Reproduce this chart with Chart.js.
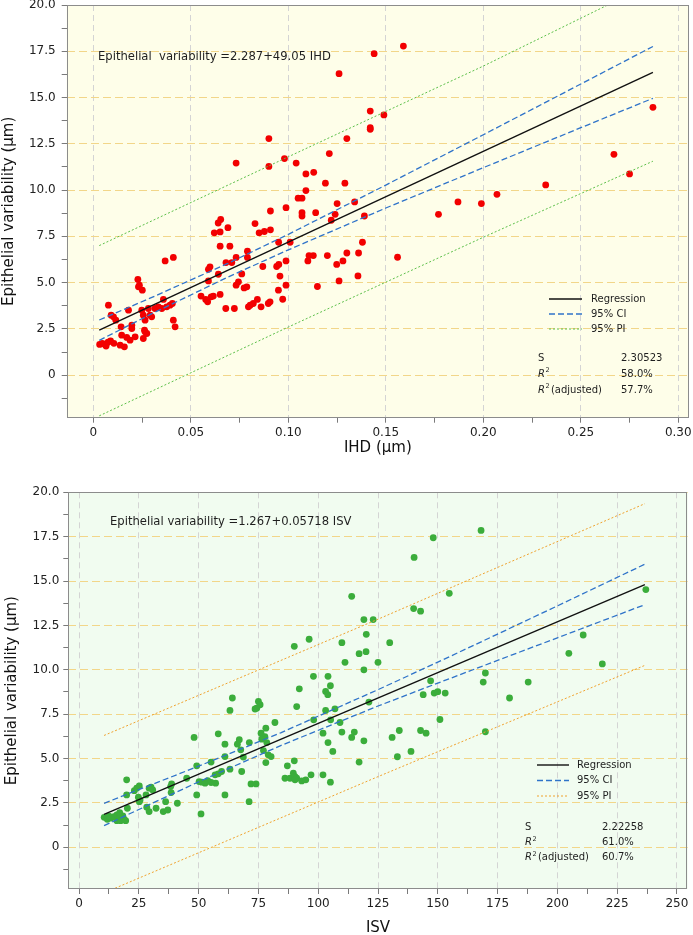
<!DOCTYPE html>
<html>
<head>
<meta charset="utf-8">
<script src="https://cdn.jsdelivr.net/npm/chart.js@4.4.1/dist/chart.umd.min.js"></script>
<style>
  html, body { margin: 0; padding: 0; background: #fff; }
  body { width: 693px; height: 935px; position: relative; overflow: hidden; }
  .panel { position: absolute; left: 0; }
</style>
</head>
<body>
<div class="panel" style="top:0"><canvas id="ihd" width="693" height="460"></canvas></div>
<div class="panel" style="top:460px"><canvas id="isv" width="693" height="477"></canvas></div>
<script>
// ---------------- data ----------------
// top panel: epithelial variability vs IHD
const IHD_X = [
  0.0032,0.0045,0.0055,0.0065,0.0075,0.0088,0.0077,0.0091,0.0103,0.0115,
  0.0142,0.0145,0.0137,0.0159,0.0171,0.018,0.0197,0.0197,0.0188,0.0214,
  0.0228,0.0231,0.0251,0.0248,0.0256,0.0265,0.0265,0.0274,0.0256,0.0282,
  0.0291,0.0299,0.0316,0.0333,0.0351,0.0359,0.0368,0.0376,0.0393,0.0405,
  0.041,0.041,0.0419,0.0105,0.0236,0.0262,
  0.0552,0.0576,0.0586,0.0604,0.0615,0.065,0.059,0.059,0.0598,0.0641,
  0.068,0.071,0.065,0.070,0.062,0.065,0.069,0.064,0.0653,0.0679,0.0723,
  0.159,0.144,0.126,0.142,0.149,0.142,0.142,0.130,0.090,0.0732,
  0.098,0.090,0.121,0.104,0.109,0.113,0.119,0.129,0.109,0.105,
  0.107,0.0908,0.0988,0.107,0.107,0.114,0.125,0.134,0.124,0.122,
  0.139,0.0829,0.085,0.0877,
  0.0908,0.095,0.1009,0.079,0.079,0.0732,0.0761,0.0869,0.094,0.0951,
  0.0988,0.0957,0.1106,0.1128,0.110,0.120,0.130,0.128,0.1248,0.136,
  0.138,0.156,0.1357,0.126,0.1149,0.0949,0.0988,0.0971,0.0906,0.0897,
  0.086,0.0841,0.082,0.0804,0.0795,
  0.0732,0.0744,0.0773,0.0787,0.177,0.187,0.199,0.207,0.232,0.267,0.275,0.287
];
const IHD_Y = [
  1.66,1.72,1.68,1.57,1.78,1.85,3.78,3.24,3.15,2.97,
  2.61,2.16,1.62,1.53,2.04,3.51,2.7,2.52,1.89,2.07,
  5.17,4.77,4.59,3.51,3.24,2.97,2.34,2.25,1.98,3.6,
  3.24,3.15,3.6,3.69,3.6,4.09,6.17,3.69,3.78,3.87,
  6.36,2.97,2.61,1.72,4.86,2.43,
  4.27,4.09,3.96,4.23,4.27,4.36,5.09,5.72,5.85,5.45,
  6.08,6.08,6.97,6.97,7.69,7.74,7.97,8.22,8.41,3.6,3.6,
  17.78,17.37,16.29,14.27,14.06,13.37,13.28,12.78,12.78,11.46,
  11.7,11.28,11.97,11.46,10.87,10.96,10.37,10.37,9.97,9.56,
  9.56,8.87,9.05,8.78,8.6,8.78,9.27,9.36,8.69,8.37,
  8.6,8.19,7.69,7.76,
  7.85,7.18,7.18,6.7,6.36,6.36,5.47,5.87,5.87,5.98,
  6.17,5.35,6.46,6.46,6.17,6.46,6.6,6.17,5.98,6.6,
  7.18,6.37,5.36,5.09,4.79,4.59,4.86,4.1,3.96,3.87,
  3.69,4.09,3.87,3.78,3.69,
  4.86,5.04,4.71,4.77,8.69,9.36,9.27,9.77,10.28,11.93,10.87,14.47
];
const IHD_FIT_X = [0.003, 0.287];
const IHD_FIT_Y = [2.43, 16.36];
const IHD_CI_X  = [0.003, 0.03, 0.069, 0.1, 0.15, 0.2, 0.25, 0.287];
const IHD_CI_UP = [2.98, 4.20, 6.04, 7.61, 10.27, 12.99, 15.73, 17.76];
const IHD_CI_LO = [1.88, 3.32, 5.30, 6.77, 9.03, 11.21, 13.37, 14.96];
const IHD_PI_X  = [0.003, 0.1, 0.2, 0.287];
const IHD_PI_UP = [7.0, 11.8, 16.7, 21.2];
const IHD_PI_LO = [-2.2, 2.6, 7.45, 11.56];
const IHD_TICKS = [0,0.025,0.05,0.075,0.1,0.125,0.15,0.175,0.2,0.225,0.25,0.275,0.3];

// bottom panel: epithelial variability vs ISV
const ISV_X = [
  10.5,11.8,13.2,14.6,15.8,15.8,16.9,17.4,18.3,18.8,
  19.5,12.5,17.0,19.9,19.9,20.2,23.1,24.1,25.2,24.8,
  25.2,25.5,28.0,28.3,29.3,29.3,30.1,30.8,32.2,35.2,
  36.2,37.1,38.3,38.7,38.5,41.1,45.0,
  48.1,49.2,49.2,51.0,50.2,51.3,52.7,53.8,55.2,57.1,
  55.2,56.9,58.2,59.6,58.2,61.0,61.0,61.0,63.1,63.1,
  64.1,66.2,67.0,67.6,68.7,68.0,71.2,71.9,74.0,71.1,
  75.0,75.7,74.3,73.6,76.1,77.7,76.4,78.1,78.5,77.1,
  78.1,79.1,80.3,81.9,87.1,90.0,86.1,88.2,89.6,90.3,
  91.0,93.1,94.8,97.0,102.0,105.1,90.3,
  91.0,92.1,90.0,96.2,98.0,98.1,102.0,103.1,103.1,104.0,
  104.1,105.1,105.2,107.0,104.1,106.1,109.1,109.9,109.9,111.2,
  114.0,114.0,115.1,117.1,117.1,119.1,119.1,119.1,120.0,120.1,
  121.2,123.0,125.0,129.9,
  130.9,133.1,133.9,138.8,139.9,140.1,142.8,142.8,143.9,145.1,
  147.0,148.5,150.0,153.1,150.9,148.1,154.8,168.1,169.9,169.0,
  169.9,180.0,187.8,204.8,210.8,218.8,237.0
];
const ISV_Y = [
  1.69,1.58,1.64,1.73,1.82,1.5,1.64,1.5,1.77,1.58,
  1.5,1.75,1.95,3.8,2.95,2.2,3.19,3.33,3.46,2.82,
  2.57,2.67,2.95,2.26,2.01,3.33,3.39,3.23,2.2,2.01,
  2.57,2.1,3.42,3.57,3.08,2.48,3.89,
  6.19,4.59,2.95,1.88,3.7,3.67,3.61,3.76,3.65,3.61,
  4.8,4.08,4.14,4.27,6.39,5.81,5.11,2.95,4.4,7.71,
  8.41,5.81,6.06,5.49,5.08,4.27,5.9,3.57,3.57,2.57,
  8.22,8.03,7.84,7.79,6.43,6.24,6.09,6.71,5.9,5.45,
  4.77,5.21,5.11,7.03,4.59,4.87,3.89,3.89,4.17,3.98,
  3.89,3.74,3.8,4.08,4.08,3.67,3.8,
  7.93,8.93,11.32,11.72,9.63,7.18,6.43,7.71,8.78,8.6,
  9.63,9.1,7.18,7.8,5.9,5.4,7.03,6.49,11.53,10.42,
  14.14,6.19,6.49,10.91,4.8,12.83,10.0,6.0,11.02,12.0,
  8.18,12.83,10.42,11.53,
  6.19,5.1,6.58,5.4,13.45,16.33,13.3,6.58,8.6,6.43,
  9.38,8.69,8.77,8.69,7.2,17.44,14.31,17.85,9.82,9.31,
  6.51,8.41,9.31,10.93,11.96,10.33,14.52
];
const ISV_FIT_X = [10.45, 236.6];
const ISV_FIT_Y = [1.86, 14.80];
const ISV_CI_X  = [10.45, 50, 84.3, 125, 150, 175, 200, 236.6];
const ISV_CI_UP = [2.48, 4.57, 6.45, 8.88, 10.43, 12.01, 13.60, 15.95];
const ISV_CI_LO = [1.22, 3.69, 5.73, 7.96, 9.25, 10.53, 11.80, 13.67];
const ISV_PI_X  = [10.45, 125, 236.6];
const ISV_PI_UP = [6.3, 12.85, 19.36];
const ISV_PI_LO = [-2.57, 3.98, 10.25];
const ISV_TICKS = [0,12.5,25,37.5,50,62.5,75,87.5,100,112.5,125,137.5,150,162.5,175,187.5,200,212.5,225,237.5,250];

const VAR_TICKS = [-1.25,0,1.25,2.5,3.75,5,6.25,7.5,8.75,10,11.25,12.5,13.75,15,16.25,17.5,18.75,20];

// ---------------- helpers ----------------
Chart.defaults.font.family = '"DejaVu Sans", Verdana, sans-serif';
const FONT = '"DejaVu Sans", Verdana, sans-serif';

const pts = (xs, ys) => xs.map((x, i) => ({ x, y: ys[i] }));
const isMajor = (v, step) => { const r = v / step; return Math.abs(r - Math.round(r)) < 1e-6; };

function line(xs, ys, color, width, dash){
  return { data: pts(xs, ys), showLine: true, borderColor: color, borderWidth: width,
           borderDash: dash, pointRadius: 0, fill: false };
}

// plot background, frame, equation, legend and fit stats
const panelPlugin = {
  id: 'panel',
  beforeDraw(chart, args, o){
    const { ctx, chartArea: a } = chart;
    ctx.save();
    ctx.fillStyle = o.bg;
    ctx.fillRect(a.left, a.top, a.width, a.height);
    ctx.restore();
  },
  afterDraw(chart, args, o){
    const { ctx, chartArea: a } = chart;
    ctx.save();
    ctx.strokeStyle = '#8c8c8c';
    ctx.lineWidth = 1;
    ctx.strokeRect(Math.round(a.left) + 0.5, Math.round(a.top) + 0.5,
                   Math.round(a.width) - 1, Math.round(a.height) - 1);

    ctx.fillStyle = '#1e1e1e';
    ctx.textBaseline = 'middle';
    ctx.font = '11.6px ' + FONT;
    ctx.fillText(o.equation, o.eq[0], o.eq[1]);

    // legend
    const L = o.legend;
    const items = [
      ['Regression', '#111', 1.4, []],
      ['95% CI', '#2f73c9', 1.3, [6, 3]],
      ['95% PI', o.piColor, 1, [2, 2]]
    ];
    ctx.font = '10px ' + FONT;
    items.forEach((it, i) => {
      const y = L.y + i * L.dy;
      ctx.beginPath();
      ctx.strokeStyle = it[1]; ctx.lineWidth = it[2]; ctx.setLineDash(it[3]);
      ctx.moveTo(L.x0, y); ctx.lineTo(L.x1, y); ctx.stroke();
      ctx.setLineDash([]);
      ctx.fillText(it[0], L.tx, y);
    });

    // stats
    const S = o.stats;
    ctx.font = '10px ' + FONT;
    ctx.fillText('S', S.x, S.y);
    ctx.fillText(S.vals[0], S.vx, S.y);
    [1, 2].forEach(k => {
      const y = S.y + k * S.dy;
      ctx.font = 'italic 10px ' + FONT;
      ctx.fillText('R', S.x, y);
      const w = ctx.measureText('R').width;
      ctx.font = '6.5px ' + FONT;
      ctx.fillText('2', S.x + w + 0.5, y - 3.5);
      if (k === 2){ ctx.font = '10px ' + FONT; ctx.fillText('(adjusted)', S.x + w + 6, y); }
      ctx.font = '10px ' + FONT;
      ctx.fillText(S.vals[k], S.vx, y);
    });
    ctx.restore();
  }
};

function makePanel(id, o){
  return new Chart(document.getElementById(id), {
    type: 'scatter',
    data: { datasets: [
      line(o.fitX, o.fitY, '#111', 1.4, []),
      line(o.ciX, o.ciUp, '#2f73c9', 1.3, [6, 3]),
      line(o.ciX, o.ciLo, '#2f73c9', 1.3, [6, 3]),
      line(o.piX, o.piUp, o.piColor, 1, [2, 2]),
      line(o.piX, o.piLo, o.piColor, 1, [2, 2]),
      { data: pts(o.x, o.y), showLine: false, pointRadius: 3.4, pointBorderWidth: 0,
        backgroundColor: o.dot, borderColor: o.dot }
    ]},
    options: {
      responsive: false,
      animation: false,
      devicePixelRatio: 1,
      layout: { padding: o.pad },
      plugins: {
        legend: { display: false },
        tooltip: { enabled: false },
        panel: o.panel
      },
      scales: {
        x: {
          type: 'linear', min: o.xMin, max: o.xMax,
          afterBuildTicks: s => { s.ticks = o.xTicks.map(v => ({ value: v })); },
          afterFit: s => { s.height = o.xH; s.paddingLeft = 0; s.paddingRight = 0; },
          ticks: { autoSkip: false, maxRotation: 0, padding: 3, color: '#222', font: { size: 12 },
                   callback: v => isMajor(v, o.xMajor) ? o.xFmt(v) : '' },
          grid: { color: c => isMajor(c.tick.value, o.xMajor) ? '#d4d4d4' : 'rgba(0,0,0,0)',
                  tickColor: '#7a7a7a', tickLength: 5, lineWidth: 1 },
          border: { display: false, dash: [6, 4] },
          title: { display: true, text: o.xTitle, color: '#111', font: { size: 15 },
                   padding: o.xTitlePad }
        },
        y: {
          type: 'linear', min: o.yMin, max: 20,
          afterBuildTicks: s => { s.ticks = VAR_TICKS.map(v => ({ value: v })); },
          afterFit: s => { s.width = o.yW; s.paddingTop = 0; s.paddingBottom = 0; },
          ticks: { autoSkip: false, padding: o.yPad, color: '#222', font: { size: 12 },
                   callback: v => isMajor(v, 2.5) ? (v === 0 ? '0' : v.toFixed(1)) : '' },
          grid: { color: c => isMajor(c.tick.value, 2.5) ? '#f2d689' : 'rgba(0,0,0,0)',
                  tickColor: '#7a7a7a', tickLength: 5, lineWidth: 1 },
          border: { display: false, dash: [8, 4] },
          title: { display: true, text: 'Epithelial variability (\u00b5m)', color: '#111',
                   font: { size: 15 }, padding: o.yTitlePad }
        }
      }
    },
    plugins: [panelPlugin]
  });
}

makePanel('ihd', {
  x: IHD_X, y: IHD_Y, dot: '#f20000',
  fitX: IHD_FIT_X, fitY: IHD_FIT_Y,
  ciX: IHD_CI_X, ciUp: IHD_CI_UP, ciLo: IHD_CI_LO,
  piX: IHD_PI_X, piUp: IHD_PI_UP, piLo: IHD_PI_LO, piColor: '#5cbf4a',
  xMin: -0.0137, xMax: 0.3055, xTicks: IHD_TICKS, xMajor: 0.05,
  xFmt: v => v === 0 ? '0' : v.toFixed(2), xTitle: 'IHD (\u00b5m)',
  yMin: -2.3, yW: 66.7, xH: 42.3, yPad: 6,
  xTitlePad: { top: 0, bottom: 3 }, yTitlePad: { top: 0, bottom: 0 },
  pad: { top: 5, right: 3.7, bottom: 0, left: 0 },
  panel: {
    bg: '#fefee9', piColor: '#5cbf4a',
    equation: 'Epithelial  variability =2.287+49.05 IHD', eq: [98, 57],
    legend: { x0: 549, x1: 582, tx: 591, y: 299, dy: 15 },
    stats: { x: 538, vx: 621, y: 358, dy: 16, vals: ['2.30523', '58.0%', '57.7%'] }
  }
});

makePanel('isv', {
  x: ISV_X, y: ISV_Y, dot: '#3bad3b',
  fitX: ISV_FIT_X, fitY: ISV_FIT_Y,
  ciX: ISV_CI_X, ciUp: ISV_CI_UP, ciLo: ISV_CI_LO,
  piX: ISV_PI_X, piUp: ISV_PI_UP, piLo: ISV_PI_LO, piColor: '#f0a22e',
  xMin: -4.5, xMax: 254.5, xTicks: ISV_TICKS, xMajor: 25,
  xFmt: v => String(v), xTitle: 'ISV',
  yMin: -2.35, yW: 68.3, xH: 48, yPad: 4,
  xTitlePad: { top: 0, bottom: 0 }, yTitlePad: { top: 3, bottom: 0 },
  pad: { top: 32.3, right: 5.3, bottom: 0, left: 0 },
  panel: {
    bg: '#f1fcf0', piColor: '#f0a22e',
    equation: 'Epithelial variability =1.267+0.05718 ISV', eq: [110, 61.7],
    legend: { x0: 537, x1: 569, tx: 577, y: 305, dy: 15.5 },
    stats: { x: 525, vx: 602, y: 367.3, dy: 15.2, vals: ['2.22258', '61.0%', '60.7%'] }
  }
});
</script>
</body>
</html>
